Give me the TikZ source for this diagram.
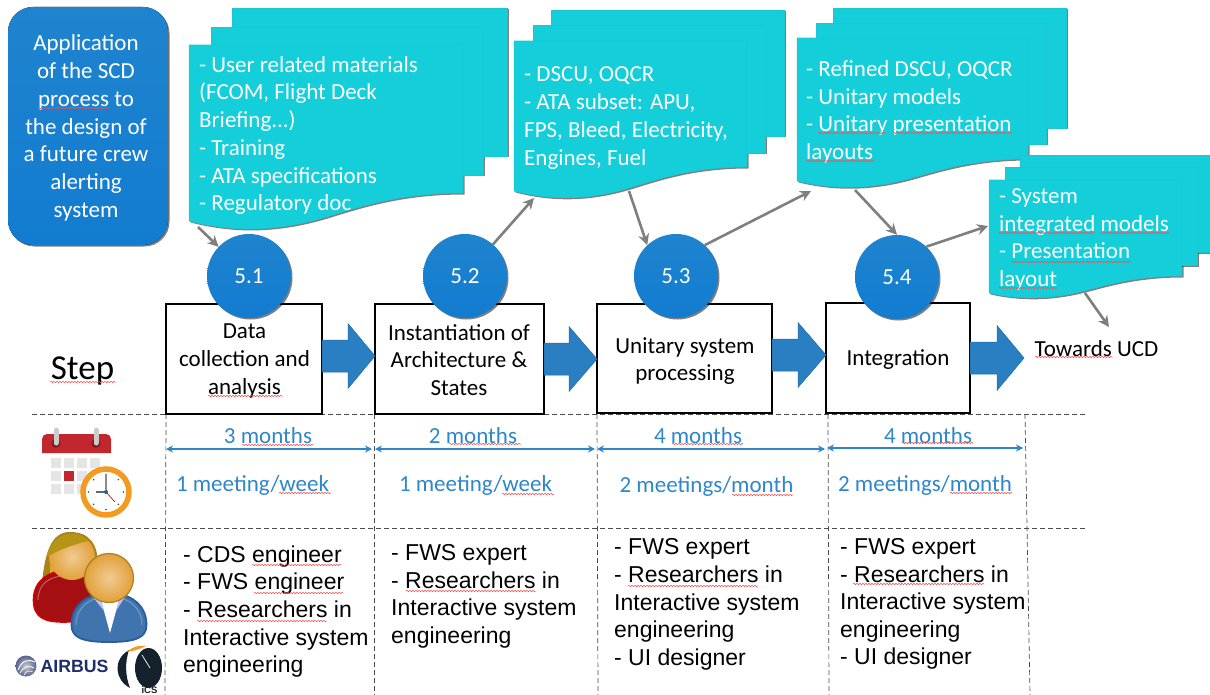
\documentclass[tikz,border=0pt]{standalone}
\usepackage{fontspec}
\setmainfont{Carlito}
\newfontfamily\arialfont{Liberation Sans}
\usetikzlibrary{arrows.meta}
\usetikzlibrary{shadows}
\usetikzlibrary{decorations.pathmorphing}
\definecolor{boxblue}{HTML}{127CD0}
\definecolor{boxblueb}{HTML}{1F84CF}
\definecolor{docteal}{HTML}{14CED9}
\definecolor{docedge}{HTML}{1BC6D1}
\definecolor{blockblue}{HTML}{2A7FC2}
\definecolor{blockedge}{HTML}{1F6BA8}
\definecolor{labelblue}{HTML}{2E86CB}
\definecolor{arrowgrey}{HTML}{7F7F7F}
\definecolor{calred}{HTML}{C1272D}
\definecolor{clockorange}{HTML}{F39A20}
\definecolor{skintone}{HTML}{E3A03A}
\definecolor{hairgold}{HTML}{A9821A}
\definecolor{shirtblue}{HTML}{3F74AE}
\definecolor{shirtedge}{HTML}{2A5C9E}
\definecolor{dressred}{HTML}{A50F12}
\definecolor{airbusnavy}{HTML}{1E2D6B}
\definecolor{icsblack}{HTML}{15212C}
\tikzset{
  softshadow/.style={drop shadow={shadow xshift=1.5pt, shadow yshift=-1.5pt, opacity=0.5, fill=black}},
  noshadow/.style={draw=docedge, line width=0.4pt},
  intro/.style={rounded corners=25pt, top color=boxblueb, bottom color=boxblue, softshadow},
  stepcircle/.style={circle, minimum size=84pt, inner sep=0pt, top color=boxblueb, bottom color=boxblue, softshadow, text=white, font=\fontsize{23}{27}\selectfont},
  stepbox/.style={draw, line width=1.3pt, fill=white, inner sep=0pt},
  steptext/.style={align=center, inner sep=0pt, font=\fontsize{23}{27.6}\selectfont},
  flowarrow/.style={fill=blockblue, draw=blockedge, line width=0.5pt},
  doctext/.style={anchor=west, inner sep=0pt, align=left, text=white, font=\fontsize{23}{27.7}\selectfont},
  greyarrow/.style={draw=arrowgrey, line width=2.6pt, -{Stealth[length=11pt,width=11pt]}},
  griddash/.style={draw=black!70, line width=0.7pt, dash pattern=on 5pt off 3pt},
  spanarrow/.style={draw=labelblue, line width=1.2pt, {Stealth[length=7pt,width=7pt]}-{Stealth[length=7pt,width=7pt]}},
  bluetext/.style={text=labelblue, inner sep=0pt, font=\fontsize{23}{27}\selectfont},
  peopletext/.style={anchor=west, inner sep=0pt, align=left, font=\arialfont\fontsize{23}{27.6}\selectfont},
  squiggle/.style={draw=red!70!white, line width=0.5pt, decorate, decoration={snake, amplitude=0.7pt, segment length=3pt}},
}
\begin{document}
\begin{tikzpicture}[x=1pt, y=-1pt]
        \useasboundingbox (0,0) rectangle (1210,695);

        \foreach \yy in {414, 528} {
          \coordinate (hl\yy) at (32, \yy);
          \coordinate (hr\yy) at (1086, \yy);
          \draw[griddash] (hl\yy) -- (hr\yy);
        }
        \foreach \n/\xa/\xb in {a/166/165, b/374/374, c/597/598, d/828/829, e/1025/1030} {
          \coordinate (vt\n) at (\xa, 414);
          \coordinate (vb\n) at (\xb, 695);
          \draw[griddash] (vt\n) -- (vb\n);
        }

        \fill[intro] (8, 7) rectangle (168, 245);
        \node[text=white, align=center, inner sep=0pt, font=\fontsize{23}{27.8}\selectfont] (intro) at (86, 128) {Application\\of the SCD\\process to\\the design of\\a future crew\\alerting\\system};

        \foreach \xa/\ya/\xb/\yb/\xc/\yc/\xd/\yd/\xe/\ye/\xf/\yf/\yg in {
          232/8/507/156/211/27/483/175/189/45/463/193/221,
          551/10/784/136/533/25/765/153/514/41/747/167/191,
          833/8/1066/128/816/23/1046/144/797/38/1028/159/181,
          1020/155/1212/252/1005/167/1197/265/989/180/1182/276/293} {
          \foreach \ds in {softshadow, noshadow} {
            \fill[fill=docteal, \ds] (\xa, \ya) rectangle (\xb, \yb);
            \fill[fill=docteal, \ds] (\xc, \yc) rectangle (\xd, \yd);
            \pgfmathsetmacro\w{\xf-\xe}
            \pgfmathsetmacro\h{\yg-\yf}
            \fill[fill=docteal, \ds] (\xe, \ye) -- (\xf, \ye) -- (\xf, \yf)
              .. controls ({\xf-.23*\w}, \yf) and ({\xf-.38*\w}, {\yf+.5*\h}) .. ({\xf-.5*\w}, {\yf+.86*\h})
              .. controls ({\xf-.67*\w}, {\yf+1.36*\h}) and ({\xe+.17*\w}, {\yg+.43*\h}) .. (\xe, \yg) -- cycle;
          }
        }

        \node[doctext] (docone) at (199, 135.5) {- User related materials\\(FCOM, Flight Deck\\Briefing...)\\- Training\\- ATA specifications\\- Regulatory doc};
        \node[doctext] (doctwo) at (524, 118) {- DSCU, OQCR\\- ATA subset: APU,\\FPS, Bleed, Electricity,\\Engines, Fuel};
        \node[doctext] (docthree) at (806, 112) {- Refined DSCU, OQCR\\- Unitary models\\- Unitary presentation\\layouts};
        \node[doctext] (docfour) at (999, 239.5) {- System\\integrated models\\- Presentation\\layout};

        \node[stepbox, minimum width=156pt, minimum height=110pt] (dataStep) at (244, 359) {};
        \node[stepbox, minimum width=169pt, minimum height=110pt] (archStep) at (459.5, 359) {};
        \node[stepbox, minimum width=175pt, minimum height=109pt] (unitStep) at (684.5, 358.5) {};
        \node[stepbox, minimum width=144pt, minimum height=110pt] (integStep) at (898, 358) {};
        \node[steptext] (dataText) at (244.5, 361) {Data\\collection and\\analysis};
        \node[steptext] (archText) at (459, 360) {Instantiation of\\Architecture \&\\States};
        \node[steptext] (unitText) at (685, 361) {Unitary system\\processing};
        \node[steptext] (integText) at (898, 360) {Integration};

        \foreach \nm/\xx/\yy/\lb in {cone/249/276/5.1, ctwo/465/276/5.2, cthree/676/276/5.3, cfour/897/277/5.4} {
          \node[stepcircle] (\nm) at (\xx, \yy) {\lb};
        }

        \foreach \xa/\xm/\xb/\yy in {322/348/375/356, 544/569/597/359, 772/798/826/355, 970/997/1024/358} {
          \draw[flowarrow] (\xa, \yy-16) -- (\xm, \yy-16) -- (\xm, \yy-32.5) -- (\xb, \yy) -- (\xm, \yy+32.5) -- (\xm, \yy+16) -- (\xa, \yy+16) -- cycle;
        }

        \node[font=\fontsize{35}{40}\selectfont, inner sep=0pt] (stepLabel) at (82.5, 371) {Step};
        \node[font=\fontsize{23}{27}\selectfont, inner sep=0pt] (ucd) at (1096.5, 349) {Towards UCD};

        \coordinate (fromone) at (198, 227);
        \coordinate (totwo) at (534, 198);
        \coordinate (fromtwo) at (629, 191);
        \coordinate (tothree) at (811, 191);
        \coordinate (fromthree) at (855, 190);
        \coordinate (tofour) at (988, 226);
        \coordinate (fromfour) at (1085, 293);
        \coordinate (toucd) at (1109, 327);
        \draw[greyarrow] (fromone) -- (cone);
        \draw[greyarrow] (ctwo) -- (totwo);
        \draw[greyarrow] (fromtwo) -- (cthree.133);
        \draw[greyarrow] (cthree.47) -- (tothree);
        \draw[greyarrow] (fromthree) -- (cfour.90);
        \draw[greyarrow] (cfour.46) -- (tofour);
        \draw[greyarrow] (fromfour) -- (toucd);

        \foreach \n/\xa/\xb/\yy in {a/166/372/449, b/375/595/449, c/597/825/449, d/827/1023/448} {
          \coordinate (sl\n) at (\xa, \yy);
          \coordinate (sr\n) at (\xb, \yy);
          \draw[spanarrow] (sl\n) -- (sr\n);
        }
        \foreach \nm/\xx/\lb in {mone/268/3 months, mtwo/473/2 months, mthree/698/4 months, mfour/928/4 months} {
          \node[bluetext] (\nm) at (\xx, 436) {\lb};
        }
        \node[bluetext] (rateone) at (252.5, 485.5) {1 meeting/week};
        \node[bluetext] (ratetwo) at (475.5, 485.5) {1 meeting/week};
        \node[bluetext] (ratethree) at (706.5, 486.5) {2 meetings/month};
        \node[bluetext] (ratefour) at (925, 485.5) {2 meetings/month};

        \node[peopletext] (teamone) at (183, 611.5) {- CDS engineer\\- FWS engineer\\- Researchers in\\Interactive system\\engineering};
        \node[peopletext] (teamtwo) at (391, 596.5) {- FWS expert\\- Researchers in\\Interactive system\\engineering};
        \node[peopletext] (teamthree) at (614, 604.5) {- FWS expert\\- Researchers in\\Interactive system\\engineering\\- UI designer};
        \node[peopletext] (teamfour) at (840, 604) {- FWS expert\\- Researchers in\\Interactive system\\engineering\\- UI designer};

        \foreach \xa/\xb/\yy in {38/110/108, 50/116/382, 208/283/396, 242/313/445, 279/331/493, 252/341/565, 254/343/593, 197/327/621,
          449/521/444, 502/554/494, 406/536/591, 672/743/444, 732/793/495, 628/758/586, 902/973/443, 950/1012/493, 853/984/584,
          818/886/133, 893/1012/133, 806/874/161, 999/1095/233, 1101/1169/233, 1011/1131/262, 999/1057/288, 1035/1113/357} {
          \draw[squiggle] (\xa, \yy) -- (\xb, \yy);
        }

        \foreach \xx in {51, 64, 77, 90} {
          \foreach \yy in {458, 471, 483.5} {
            \fill[black!10] (\xx, \yy) rectangle (\xx+10, \yy+10);
          }
        }
        \fill[calred] (64, 471) rectangle (74, 481);
        \fill[calred] (42, 453) [rounded corners=5pt] -- (42, 434) -- (111, 434) [sharp corners] -- (111, 453) -- cycle;
        \foreach \xx in {56, 96} {
          \fill[calred!70!black] (\xx, 443.5) circle[radius=4.5];
          \draw[black!20, line width=5pt, line cap=round] (\xx, 430) -- (\xx, 443);
        }
        \draw[clockorange, line width=5.5pt, fill=white] (106, 492) circle[radius=23];
        \foreach \ang in {0, 45, ..., 315} {
          \fill[black!70] (106, 492) ++(\ang:17.5) circle[radius=0.9];
        }
        \draw[black!45, line width=1.8pt] (106, 492) -- (106, 474);
        \draw[black!60, line width=1.5pt] (106, 492) -- (96, 492);
        \draw[red!70!black, line width=0.6pt] (106, 492) -- (115, 502);
        \fill[shirtedge] (106, 492) circle[radius=2];

        \fill[hairgold] (42, 582) .. controls (45, 555) and (50, 532) .. (70, 532) .. controls (90, 532) and (98, 545) .. (98, 565) -- (98, 582) -- cycle;
        \fill[hairgold!65!yellow!90!white] (50, 575) .. controls (50, 550) and (55, 536) .. (70, 535) .. controls (85, 535) and (94, 548) .. (95, 570) -- cycle;
        \draw[red!85!black, line width=1.6pt, fill=dressred] (33.5, 600) .. controls (33.5, 580) and (50, 571) .. (64, 571) .. controls (85, 571) and (95, 585) .. (95, 600) .. controls (95, 618) and (80, 622) .. (64, 622) .. controls (45, 622) and (33.5, 618) .. (33.5, 600) -- cycle;
        \draw[white, opacity=0.3, line width=1.2pt] (38, 600) .. controls (38, 584) and (50, 576) .. (64, 576);
        \shade[inner color=skintone!55!white, outer color=skintone] (72, 557) circle[radius=23];
        \fill[hairgold!85!yellow] (47, 557) .. controls (50, 533) and (78, 528) .. (88, 541) .. controls (75, 544) and (58, 550) .. (47, 557) -- cycle;
        \draw[shirtedge, line width=1.8pt, fill=shirtblue] (71.5, 625) .. controls (71.5, 603) and (90, 593) .. (109, 593) .. controls (128, 593) and (146.5, 603) .. (146.5, 625) .. controls (146.5, 638) and (135, 642) .. (109, 642) .. controls (83, 642) and (71.5, 638) .. (71.5, 625) -- cycle;
        \draw[white, opacity=0.25, line width=1.2pt] (76, 625) .. controls (76, 606) and (92, 598) .. (100, 598);
        \draw[white, opacity=0.25, line width=1.2pt] (142, 625) .. controls (142, 606) and (126, 598) .. (118, 598);
        \fill[white] (101, 600) -- (110, 633) -- (119, 600) -- cycle;
        \fill[black!15!blue!25!white] (93, 597) -- (101, 600) -- (104, 611) -- cycle;
        \fill[black!15!blue!25!white] (125, 597) -- (119, 600) -- (116, 611) -- cycle;
        \shade[inner color=skintone!55!white, outer color=skintone] (109, 578) circle[radius=24.5];
        \draw[hairgold, line width=1.2pt] (109, 578) circle[radius=24.5];

        \shade[inner color=black!20, outer color=airbusnavy!75] (26, 666) circle[radius=10.5];
        \draw[white, line width=1pt] (18, 670) .. controls (22, 660) and (28, 659) .. (35, 662);
        \draw[white, line width=0.8pt] (20, 673) .. controls (24, 666) and (29, 665) .. (34, 668);
        \draw[white, line width=0.6pt] (24, 675) .. controls (26, 671) and (29, 670) .. (33, 672);
        \node[inner sep=0pt, text=airbusnavy, font=\arialfont\bfseries\fontsize{17.7}{20}\selectfont] (airbusLogo) at (74.5, 666) {AIRBUS};

        \fill[icsblack] (148.5, 668) ellipse[x radius=13.5, y radius=20];
        \fill[icsblack] (129, 650) .. controls (112, 660) and (115, 680) .. (130, 688) .. controls (125, 675) and (125, 662) .. (129, 650) -- cycle;
        \fill[clockorange] (127, 652) .. controls (132, 647) and (138, 645) .. (146, 646) .. controls (140, 649) and (134, 651) .. (127, 652) -- cycle;
        \draw[white, line width=0.7pt] (142, 655) -- (150, 668);
        \node[inner sep=0pt, text=icsblack, font=\arialfont\bfseries\fontsize{9.5}{11}\selectfont] (icsLogo) at (149.5, 690) {iCS};
      \end{tikzpicture}
\end{document}
